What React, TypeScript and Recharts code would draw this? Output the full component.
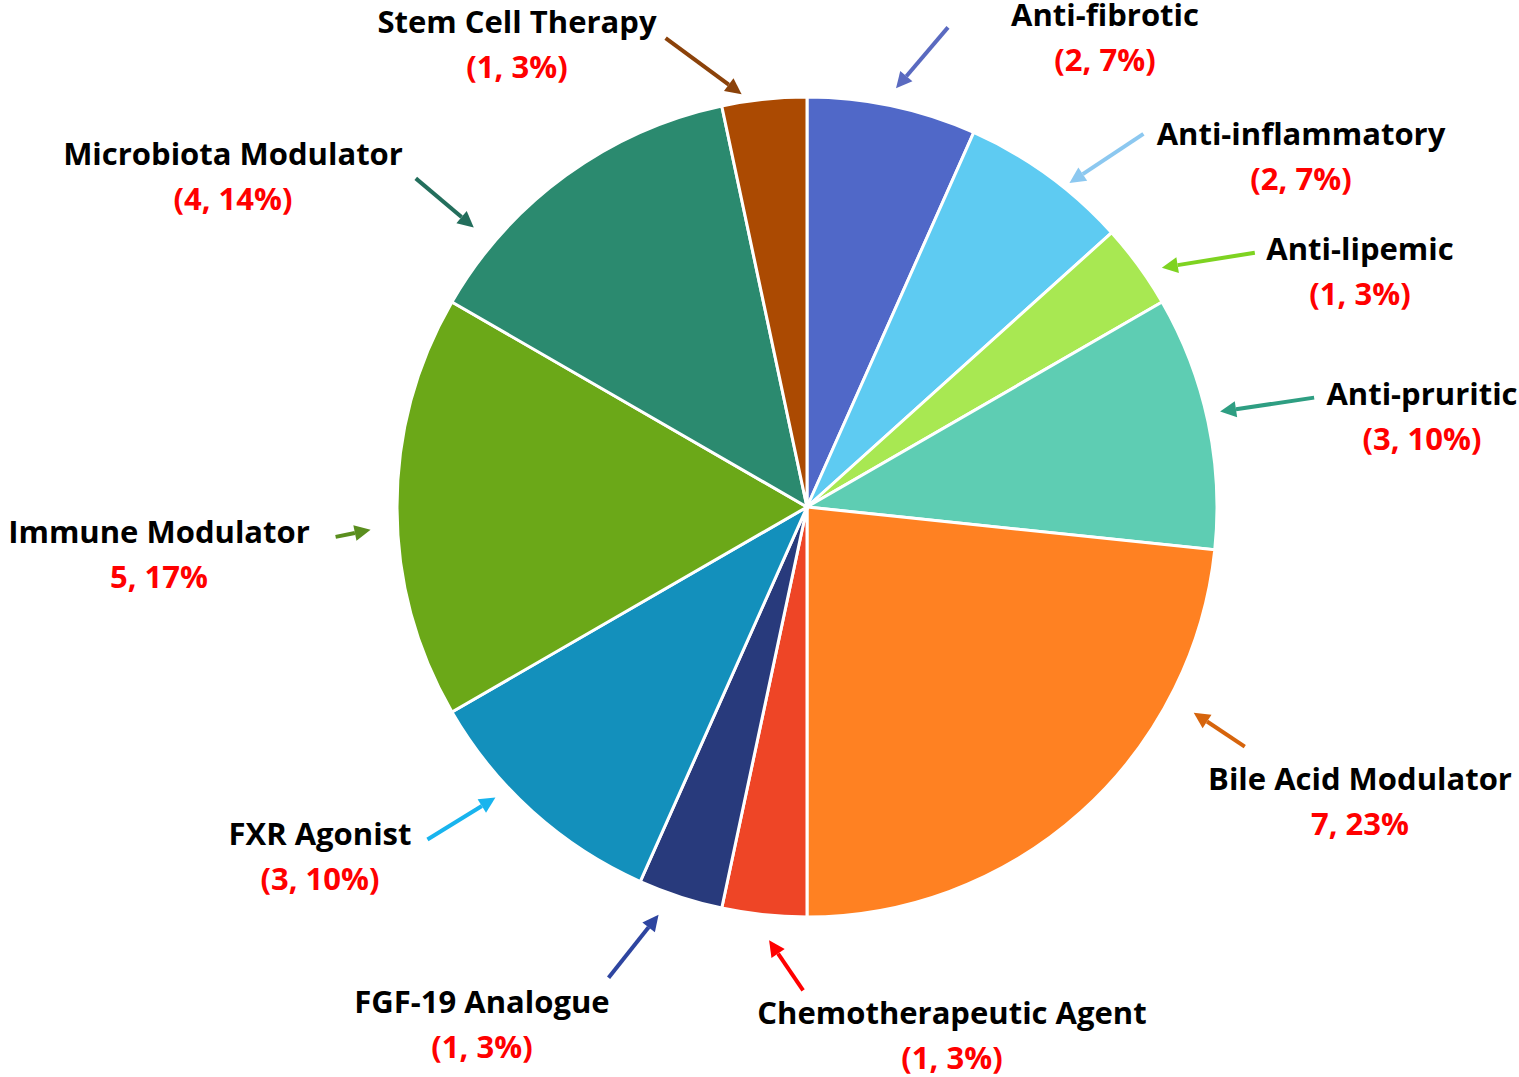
import React from "react";
import { PieChart, Pie, Cell } from "recharts";

// categories clockwise from 12 o'clock
const categories = [
  "Anti-fibrotic",
  "Anti-inflammatory",
  "Anti-lipemic",
  "Anti-pruritic",
  "Bile Acid Modulator",
  "Chemotherapeutic Agent",
  "FGF-19 Analogue",
  "FXR Agonist",
  "Immune Modulator",
  "Microbiota Modulator",
  "Stem Cell Therapy",
];
const counts = [2, 2, 1, 3, 7, 1, 1, 3, 5, 4, 1];
const valueLabels = [
  "(2, 7%)", "(2, 7%)", "(1, 3%)", "(3, 10%)", "7, 23%", "(1, 3%)",
  "(1, 3%)", "(3, 10%)", "5, 17%", "(4, 14%)", "(1, 3%)",
];

const sliceColors = [
  "#5068C8", "#5ECBF2", "#A8E852", "#5ECDB3", "#FF8122", "#EE4526",
  "#283A7C", "#1390BC", "#6BA818", "#2B8A6F", "#AB4A02",
];
const arrowColors = [
  "#5A6AC0", "#8CC8F0", "#7ED321", "#2E9E82", "#D6640C", "#FF0000",
  "#2E45A0", "#18B4EE", "#5A8E1E", "#236E5C", "#8B420A",
];

// annotation layout: arrow head angle shift (deg, clockwise), gap past rim,
// tail offset from head, label anchor offset from pie centre
const annot = [
  { dA: 0, gap: 18, tail: [52, -61], text: [298, -481] },
  { dA: 3, gap: 7, tail: [74, -49], text: [494, -362] },
  { dA: 2, gap: 18, tail: [93, -15], text: [553, -247] },
  { dA: -1, gap: 14, tail: [94, -14], text: [615, -102] },
  { dA: -20, gap: 28, tail: [51, 34], text: [553, 283] },
  { dA: -1, gap: 25, tail: [34, 50], text: [145, 517] },
  { dA: 2, gap: 24, tail: [-50, 63], text: [-325, 506] },
  { dA: 5, gap: 16, tail: [-68, 42], text: [-487, 338] },
  { dA: -3, gap: 27, tail: [-35, 7], text: [-648, 36] },
  { dA: -14, gap: 25, tail: [-58, -49], text: [-574, -342] },
  { dA: -3, gap: 8, tail: [-76, -56], text: [-290, -474] },
];

const data = categories.map((name, i) => ({ name, value: counts[i] }));

const FONT = "'Open Sans', Lato, sans-serif";
const RAD = Math.PI / 180;
const textStyle = { fontVariantLigatures: "none" as const };

function renderLabel(props: any) {
  const { cx, cy, midAngle, outerRadius, index } = props;
  const a = annot[index];
  // clockwise-from-top angle
  const theta = (90 - midAngle + a.dA) * RAD;
  const r = outerRadius + a.gap;
  const hx = cx + r * Math.sin(theta);
  const hy = cy - r * Math.cos(theta);
  const tx = hx + a.tail[0];
  const ty = hy + a.tail[1];
  const len = Math.hypot(tx - hx, ty - hy);
  const ux = (hx - tx) / len;
  const uy = (hy - ty) / len;
  const headLen = 16;
  const headW = 8;
  const bx = hx - ux * headLen;
  const by = hy - uy * headLen;
  const color = arrowColors[index];
  const lx = cx + a.text[0];
  const ly = cy + a.text[1];
  return (
    <g key={`lab-${index}`}>
      <line x1={tx} y1={ty} x2={bx} y2={by} stroke={color} strokeWidth={4} />
      <polygon
        points={`${hx},${hy} ${bx - uy * headW},${by + ux * headW} ${bx + uy * headW},${by - ux * headW}`}
        fill={color}
      />
      <text x={lx} y={ly} textAnchor="middle" fontFamily={FONT} fontWeight={700} fontSize={31} fill="#000" style={textStyle}>
        {categories[index]}
      </text>
      <text x={lx} y={ly + 45} textAnchor="middle" fontFamily={FONT} fontWeight={700} fontSize={31} fill="#FF0000" style={textStyle}>
        {valueLabels[index]}
      </text>
    </g>
  );
}

export default function App() {
  return (
    <div style={{ position: "absolute", left: 0, top: 0, background: "#fff" }}>
      <PieChart width={1519} height={1077} margin={{ top: 0, right: 0, bottom: 0, left: 0 }}>
        <Pie
          data={data}
          dataKey="value"
          nameKey="name"
          cx={807}
          cy={507}
          outerRadius={410}
          startAngle={90}
          endAngle={-270}
          stroke="#fff"
          strokeWidth={3}
          label={renderLabel}
          labelLine={false}
          isAnimationActive={false}
        >
          {data.map((d, i) => (
            <Cell key={d.name} fill={sliceColors[i]} />
          ))}
        </Pie>
      </PieChart>
    </div>
  );
}
